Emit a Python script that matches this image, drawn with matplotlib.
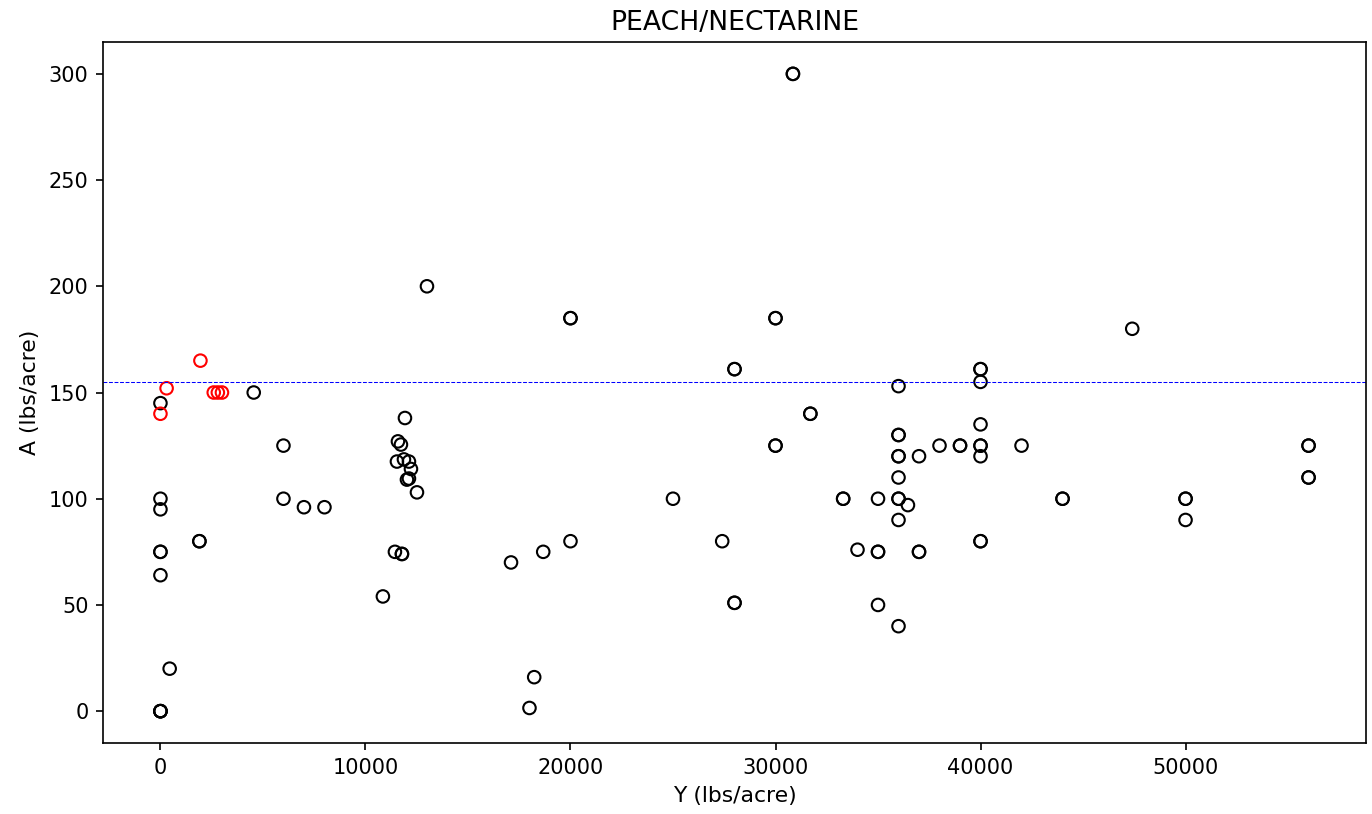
import matplotlib
matplotlib.use("Agg")
import matplotlib.pyplot as plt

# Black (regular) points: Y (lbs/acre), A (lbs/acre)
black_x = [0, 0, 0, 0, 0, 0, 0, 450, 0, 0, 0,
           4550, 1900, 1900, 6000, 6000, 7000, 8000,
           10850, 11926, 11584, 11730, 11535, 11877, 12121, 12219, 12023, 12121, 12512,
           11437, 11779, 11779,
           13000, 17100, 18670, 18230, 18000,
           20000, 20000, 20000, 25000, 27400, 28000, 28000, 28000, 28000,
           30000, 30000, 30000, 30000, 30850, 30850, 31700, 31700,
           33300, 33300, 34000, 35000, 35000, 35000, 35000,
           36000, 36000, 36000, 36000, 36000, 36000, 36000, 36000, 36000, 36000, 36460,
           37000, 37000, 37000, 38000, 39000, 39000,
           40000, 40000, 40000, 40000, 40000, 40000, 40000, 40000, 40000, 42000,
           44000, 44000, 47400, 50000, 50000, 50000, 56000, 56000, 56000, 56000]
black_y = [145, 100, 95, 75, 75, 64, 0, 20, 0, 0, 0,
           150, 80, 80, 125, 100, 96, 96,
           54, 138, 127, 125.5, 117.5, 118.5, 117.5, 114, 109, 109.5, 103,
           75, 74, 74,
           200, 70, 75, 16, 1.5,
           185, 185, 80, 100, 80, 161, 161, 51, 51,
           185, 185, 125, 125, 300, 300, 140, 140,
           100, 100, 76, 75, 75, 50, 100,
           153, 130, 130, 120, 120, 110, 100, 100, 90, 40, 97,
           120, 75, 75, 125, 125, 125,
           161, 161, 155, 135, 125, 125, 120, 80, 80, 125,
           100, 100, 180, 100, 100, 90, 125, 125, 110, 110]

# Red (highlighted) points
red_x = [0, 300, 1950, 2600, 2800, 3000]
red_y = [140, 152, 165, 150, 150, 150]

threshold = 155

fig = plt.figure(figsize=(13.72 / 1.5, 8.14 / 1.5), dpi=150)
ax = fig.add_subplot(111)
fig.subplots_adjust(left=0.0751, right=0.9956, top=0.9484, bottom=0.0872)

ax.scatter(black_x, black_y, s=36, facecolors='none', edgecolors='black', linewidths=1.0)
ax.scatter(red_x, red_y, s=36, facecolors='none', edgecolors='red', linewidths=1.0)
ax.axhline(threshold, color='blue', linestyle='--', linewidth=0.5)

ax.set_title("PEACH/NECTARINE", fontsize=12.8)
ax.set_xlabel("Y (lbs/acre)", fontsize=10.5)
ax.set_ylabel("A (lbs/acre)", fontsize=10.5)
ax.tick_params(labelsize=10)

fig.savefig("out.png", dpi=150)
